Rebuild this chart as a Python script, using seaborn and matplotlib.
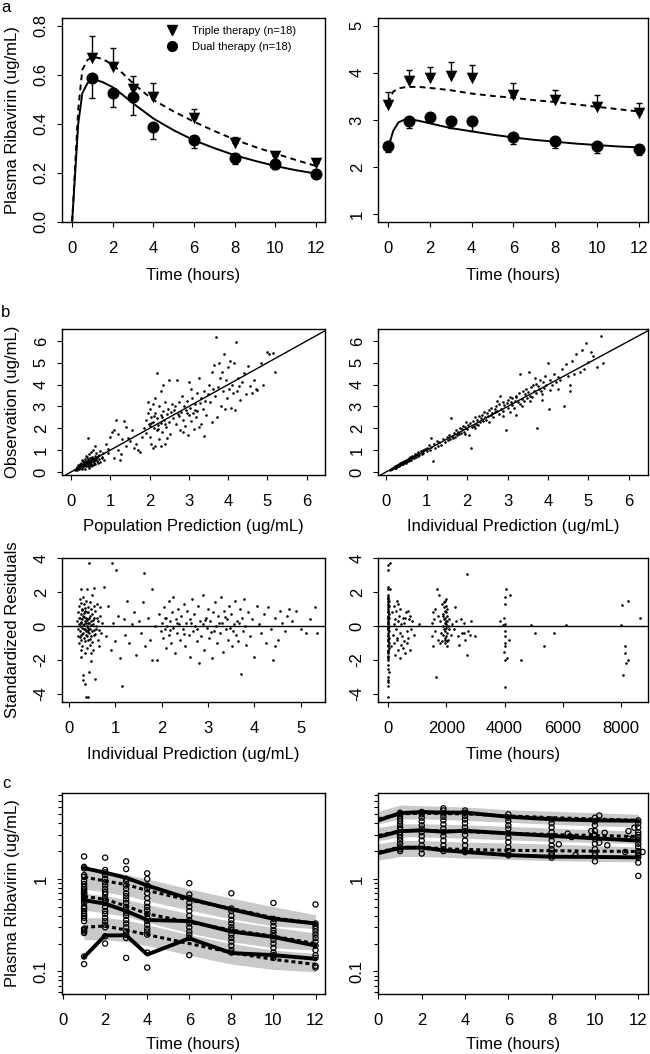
import matplotlib
matplotlib.use("Agg")
import matplotlib.pyplot as plt
import seaborn as sns
import pandas as pd
from matplotlib.lines import Line2D
from matplotlib.ticker import FixedLocator, LogLocator, NullFormatter

# ------------------------------------------------------------------ data
# Panel a (left): single-dose profile
a1_times = [1, 2, 3, 4, 6, 8, 10, 12]
a1_triple_mean = [0.667, 0.633, 0.540, 0.510, 0.425, 0.321, 0.267, 0.241]
a1_triple_err = [0.092, 0.078, 0.055, 0.055, 0.033, 0.025, 0.011, 0.016]
a1_dual_mean = [0.585, 0.527, 0.510, 0.387, 0.335, 0.261, 0.234, 0.196]
a1_dual_err = [0.079, 0.058, 0.075, 0.048, 0.034, 0.024, 0.018, 0.008]
a1_curve_t = [0, 0.3, 0.5, 0.75, 1, 1.5, 2, 2.5, 3, 3.5, 4, 5, 6, 7, 8, 9, 10, 11, 12]
a1_triple_curve = [0, 0.46, 0.62, 0.66, 0.674, 0.665, 0.64, 0.605, 0.565, 0.53, 0.497,
                   0.45, 0.408, 0.37, 0.335, 0.305, 0.278, 0.252, 0.227]
a1_dual_curve = [0, 0.40, 0.524, 0.565, 0.583, 0.57, 0.549, 0.517, 0.483, 0.452, 0.421,
                 0.373, 0.332, 0.30, 0.271, 0.248, 0.227, 0.21, 0.196]

# Panel a (right): steady state profile
a2_times = [0, 1, 2, 3, 4, 6, 8, 10, 12]
a2_triple_mean = [3.32, 3.82, 3.88, 3.93, 3.89, 3.52, 3.42, 3.28, 3.14]
a2_triple_err = [0.28, 0.23, 0.25, 0.30, 0.27, 0.27, 0.21, 0.25, 0.23]
a2_dual_mean = [2.44, 2.98, 3.07, 2.98, 2.97, 2.65, 2.56, 2.44, 2.39]
a2_dual_err = [0.12, 0.14, 0.10, 0.15, 0.20, 0.16, 0.16, 0.14, 0.14]
a2_curve_t = [0, 0.1, 0.25, 0.5, 0.75, 1, 1.5, 2, 3, 4, 5, 6, 7, 8, 9, 10, 11, 12]
a2_triple_curve = [3.35, 3.47, 3.60, 3.67, 3.69, 3.70, 3.70, 3.68, 3.63, 3.56, 3.51,
                   3.47, 3.42, 3.38, 3.33, 3.28, 3.23, 3.18]
a2_dual_curve = [2.42, 2.55, 2.77, 2.95, 3.00, 3.02, 2.98, 2.93, 2.83, 2.76, 2.69,
                 2.63, 2.58, 2.54, 2.50, 2.47, 2.44, 2.42]

legend_labels = ["Triple therapy (n=18)", "Dual therapy (n=18)"]

# Panel b: goodness of fit (population prediction, observation)
pop_pairs = [
    (0.10, 0.08), (0.12, 0.15), (0.14, 0.10), (0.15, 0.22), (0.17, 0.18), (0.18, 0.30), (0.20, 0.12),
    (0.20, 0.25), (0.22, 0.35), (0.23, 0.20), (0.25, 0.28), (0.25, 0.42), (0.27, 0.15), (0.28, 0.33),
    (0.30, 0.38), (0.30, 0.50), (0.31, 0.22), (0.33, 0.45), (0.34, 0.30), (0.35, 0.60), (0.36, 0.40),
    (0.37, 0.25), (0.38, 0.52), (0.40, 0.35), (0.40, 0.70), (0.41, 0.45), (0.42, 0.28), (0.43, 0.58),
    (0.44, 0.40), (0.45, 0.80), (0.46, 0.50), (0.47, 0.32), (0.48, 0.62), (0.50, 0.45), (0.50, 0.90),
    (0.51, 0.38), (0.52, 0.55), (0.53, 0.70), (0.55, 0.48), (0.55, 1.00), (0.56, 0.30), (0.57, 0.62),
    (0.58, 0.42), (0.60, 0.75), (0.60, 0.55), (0.62, 0.35), (0.63, 0.85), (0.65, 0.50), (0.66, 0.68),
    (0.68, 0.40), (0.70, 0.78), (0.72, 0.58), (0.74, 0.95), (0.75, 0.45), (0.78, 0.70), (0.80, 0.62),
    (0.82, 0.85), (0.85, 0.55), (0.42, 1.55), (0.60, 1.20), (0.35, 0.15), (0.45, 0.20), (0.28, 0.55),
    (0.38, 0.75), (0.52, 0.25), (0.33, 0.36), (0.39, 0.44), (0.44, 0.52), (0.49, 0.40), (0.54, 0.64),
    (0.59, 0.50), (0.64, 0.60), (0.69, 0.72), (0.26, 0.30), (0.31, 0.27), (0.36, 0.33), (0.47, 0.47),
    (0.90, 1.30), (0.95, 0.85), (1.00, 1.60), (1.05, 1.85), (1.10, 1.90), (1.15, 2.40), (1.20, 1.00),
    (1.25, 0.55), (1.28, 0.80), (1.30, 1.50), (1.35, 2.35), (1.40, 1.20), (1.45, 1.55), (1.50, 1.40),
    (1.55, 1.90), (1.60, 1.10), (1.65, 1.30), (1.70, 1.00), (1.75, 0.90), (1.80, 1.60), (1.20, 1.75),
    (1.40, 2.05), (0.95, 1.05), (1.10, 0.65),
    (1.85, 2.00), (1.90, 2.40), (1.92, 1.80), (1.95, 2.70), (1.98, 2.20), (2.00, 1.60), (2.00, 2.90),
    (2.02, 2.10), (2.05, 2.50), (2.05, 1.30), (2.08, 3.10), (2.10, 2.30), (2.10, 1.10), (2.12, 2.00),
    (2.15, 2.70), (2.15, 3.40), (2.18, 1.90), (2.20, 2.45), (2.20, 4.55), (2.22, 2.15), (2.25, 3.00),
    (2.25, 1.50), (2.28, 2.60), (2.30, 2.25), (2.30, 3.70), (2.32, 1.85), (2.35, 2.80), (2.35, 4.00),
    (2.38, 2.40), (2.40, 1.30), (2.40, 3.20), (2.42, 2.05), (2.45, 2.65), (2.48, 2.90), (2.50, 2.30),
    (2.50, 4.20), (2.52, 1.75), (2.55, 2.75), (2.58, 3.10), (2.60, 2.45), (2.30, 1.20), (2.15, 1.20),
    (1.95, 3.20), (2.45, 1.55), (2.05, 2.25), (2.12, 2.55), (2.22, 1.95), (2.33, 2.50), (2.40, 2.20),
    (2.62, 2.85), (2.65, 3.00), (2.68, 2.20), (2.70, 4.20), (2.72, 2.65), (2.75, 3.20), (2.78, 1.90),
    (2.80, 2.75), (2.82, 3.50), (2.85, 2.40), (2.88, 3.00), (2.90, 2.10), (2.92, 2.85), (2.95, 3.25),
    (2.98, 1.70), (3.00, 2.60), (3.00, 4.10), (3.02, 2.95), (3.05, 2.35), (3.08, 3.40), (3.10, 2.70),
    (3.12, 1.95), (3.15, 3.10), (3.18, 2.50), (3.20, 3.60), (3.22, 2.80), (3.25, 4.30), (3.28, 3.15),
    (3.30, 2.20), (3.32, 3.40), (3.35, 2.90), (3.38, 3.70), (3.40, 1.65), (3.42, 3.25), (3.45, 2.60),
    (3.48, 3.55), (2.75, 2.55), (3.05, 3.80), (2.85, 1.85), (3.25, 2.05), (2.95, 2.70), (3.15, 2.85),
    (3.52, 4.00), (3.55, 3.20), (3.58, 4.60), (3.60, 2.30), (3.62, 3.80), (3.65, 4.90), (3.68, 3.50),
    (3.70, 6.20), (3.72, 2.50), (3.75, 3.90), (3.78, 5.00), (3.80, 4.30), (3.82, 3.00), (3.85, 4.60),
    (3.88, 3.70), (3.90, 5.40), (3.92, 2.90), (3.95, 4.20), (3.98, 3.40), (4.00, 4.80), (4.02, 3.80),
    (4.05, 5.10), (4.08, 2.95), (4.10, 4.00), (4.12, 3.60), (4.15, 5.00), (4.18, 2.85), (4.20, 5.95),
    (4.22, 3.70), (4.25, 4.30), (4.30, 3.30), (4.35, 4.10), (4.40, 4.55), (4.45, 3.55), (4.50, 4.85),
    (4.55, 3.95), (4.60, 3.60), (4.65, 4.20), (4.70, 3.80), (4.28, 3.95),
    (4.75, 3.75), (4.85, 5.00), (5.00, 5.50), (5.05, 5.40), (5.15, 5.45), (5.20, 4.60), (4.90, 4.00),
]

# (individual prediction, observation)
ind_pairs = [
    (0.10, 0.10), (0.12, 0.14), (0.15, 0.13), (0.17, 0.19), (0.18, 0.16), (0.20, 0.22), (0.22, 0.20),
    (0.23, 0.26), (0.25, 0.24), (0.27, 0.30), (0.28, 0.25), (0.30, 0.33), (0.32, 0.29), (0.33, 0.37),
    (0.35, 0.32), (0.37, 0.40), (0.38, 0.35), (0.40, 0.44), (0.42, 0.38), (0.43, 0.47), (0.45, 0.42),
    (0.47, 0.52), (0.48, 0.45), (0.50, 0.55), (0.52, 0.48), (0.54, 0.60), (0.55, 0.52), (0.57, 0.63),
    (0.58, 0.55), (0.60, 0.68), (0.62, 0.57), (0.64, 0.70), (0.65, 0.62), (0.68, 0.75), (0.70, 0.64),
    (0.72, 0.80), (0.74, 0.70), (0.76, 0.82), (0.78, 0.72), (0.80, 0.90), (0.82, 0.76), (0.85, 0.95),
    (0.88, 0.82), (0.90, 1.02), (0.92, 0.85), (0.95, 1.05), (0.30, 0.26), (0.35, 0.40), (0.45, 0.50),
    (0.55, 0.48), (0.65, 0.72), (0.25, 0.20), (0.40, 0.36), (0.60, 0.55), (0.50, 0.42),
    (1.00, 1.10), (1.02, 0.95), (1.05, 1.25), (1.08, 1.00), (1.10, 1.55), (1.12, 1.15), (1.15, 0.50),
    (1.18, 1.28), (1.20, 1.10), (1.25, 1.40), (1.28, 1.20), (1.30, 1.35), (1.35, 1.25), (1.40, 1.50),
    (1.45, 1.35), (1.50, 1.60), (1.52, 1.45), (1.55, 1.70), (1.58, 1.50), (1.60, 2.45), (1.62, 1.65),
    (1.65, 1.55), (1.68, 1.80), (1.70, 1.62), (1.72, 1.90), (1.75, 1.70), (1.78, 1.85), (1.80, 1.75),
    (1.82, 2.00), (1.85, 1.80), (1.88, 1.95), (1.90, 2.10), (1.92, 1.85), (1.95, 2.05), (1.98, 2.30),
    (2.00, 1.95), (2.02, 2.15), (2.05, 1.70), (2.08, 2.25), (2.10, 1.10), (2.12, 2.05), (2.15, 2.35),
    (2.18, 2.10), (2.20, 2.50), (2.22, 2.20), (2.25, 2.40), (2.28, 2.15), (2.30, 2.55), (2.32, 2.30),
    (2.35, 2.45), (2.38, 2.60), (2.40, 2.35), (2.42, 2.75), (2.45, 2.50), (2.48, 2.40), (2.50, 2.70),
    (2.52, 2.55), (2.55, 2.85), (2.58, 2.60), (2.60, 2.95), (2.62, 2.70), (2.65, 2.50), (2.68, 2.90),
    (2.70, 2.75), (2.72, 3.00), (2.75, 2.80), (2.78, 3.10), (2.80, 2.65), (2.82, 3.50), (2.85, 2.90),
    (2.88, 3.20), (2.90, 2.80), (2.92, 3.05), (2.95, 1.90), (2.98, 3.15), (3.00, 2.95), (3.02, 3.30),
    (3.05, 2.75), (3.08, 3.20), (3.10, 3.05), (3.12, 3.40), (3.15, 2.95), (3.18, 3.25), (3.20, 2.60),
    (3.22, 3.45), (3.25, 3.20), (3.28, 3.60), (3.30, 3.10), (3.32, 4.50), (3.35, 3.35), (3.38, 3.70),
    (3.40, 3.25), (3.42, 3.55), (3.45, 3.80), (3.48, 3.40), (3.50, 3.65), (3.52, 4.60), (3.55, 3.50),
    (3.58, 3.90), (3.60, 3.45), (3.62, 4.00), (3.65, 3.70), (3.68, 4.30), (3.70, 3.60), (3.72, 2.00),
    (3.75, 3.95), (3.78, 3.80), (3.80, 4.20), (3.82, 3.70), (3.85, 3.30), (3.88, 4.10), (3.90, 3.85),
    (3.92, 4.40), (3.95, 4.00), (4.00, 5.00), (4.02, 2.90), (4.05, 4.20), (4.10, 4.00), (4.15, 4.50),
    (4.20, 4.10), (4.25, 4.35), (4.30, 4.20), (4.35, 4.70), (4.40, 3.00), (4.45, 4.95), (4.50, 4.40),
    (4.55, 3.70), (4.55, 4.00), (4.60, 5.10), (4.65, 4.50), (4.70, 5.40), (4.80, 4.60), (4.85, 5.60),
    (4.90, 4.70), (4.95, 5.90), (5.00, 5.05), (5.05, 5.50), (5.10, 5.30), (5.20, 4.80), (5.30, 6.25),
    (5.35, 5.00), (2.55, 2.30), (2.75, 3.25), (2.90, 2.55), (3.05, 3.45), (3.20, 3.50), (3.35, 3.00),
    (3.55, 3.25), (3.70, 4.05), (3.85, 3.55), (4.05, 3.75), (4.25, 3.80), (1.95, 1.75), (2.20, 2.00),
]

# (individual prediction, standardized residual)
resid_ipred_pairs = [
    (0.18, 0.30), (0.19, -0.20), (0.20, 0.80), (0.20, -0.60), (0.21, 0.10), (0.22, 1.20), (0.22, -1.00),
    (0.23, 0.50), (0.23, -0.30), (0.24, 1.60), (0.24, 0.00), (0.25, -1.40), (0.25, 0.70), (0.26, -0.50),
    (0.26, 2.20), (0.27, 0.20), (0.27, -0.80), (0.28, 1.00), (0.28, -0.10), (0.29, 0.40), (0.29, -1.20),
    (0.30, 1.70), (0.30, -0.40), (0.31, 0.60), (0.31, -2.90), (0.32, 0.10), (0.32, -0.70), (0.33, 1.30),
    (0.33, -0.20), (0.34, 0.90), (0.34, -1.60), (0.35, 0.30), (0.35, -0.90), (0.36, 1.50), (0.36, -0.30),
    (0.37, 0.50), (0.37, -4.15), (0.38, 2.20), (0.38, -0.60), (0.39, 0.00), (0.39, -1.30), (0.40, 1.10),
    (0.40, -0.10), (0.41, 0.40), (0.41, -4.15), (0.42, -0.80), (0.42, 0.80), (0.43, -2.70), (0.43, 0.20),
    (0.44, 3.70), (0.44, -0.40), (0.45, 1.40), (0.45, -1.10), (0.46, 0.60), (0.46, -0.20), (0.47, 1.00),
    (0.47, -2.05), (0.48, 0.30), (0.48, -0.60), (0.49, 1.80), (0.50, -0.30), (0.50, 0.70), (0.51, -1.40),
    (0.52, 0.10), (0.53, 2.25), (0.54, -0.50), (0.55, 0.50), (0.56, -3.10), (0.57, 0.90), (0.58, -0.20),
    (0.60, 1.30), (0.62, -0.80), (0.63, 0.30), (0.65, -1.20), (0.66, 0.60), (0.68, 1.10), (0.70, -0.40),
    (0.72, 0.20), (0.75, 2.30), (0.34, -3.40), (0.30, -3.20), (0.26, -1.80), (0.48, -1.60), (0.58, 0.00),
    (0.36, 0.15), (0.40, -0.25), (0.29, 0.95), (0.33, 0.55), (0.21, 0.45), (0.23, -0.65), (0.25, 0.25),
    (0.27, 1.35), (0.28, -0.45), (0.31, 0.05), (0.32, 0.75), (0.34, -0.15), (0.35, 1.05), (0.37, -0.55),
    (0.38, 0.35), (0.39, 0.85), (0.41, -0.35), (0.42, 0.15), (0.44, 0.45), (0.45, -0.75), (0.47, 0.05),
    (0.49, -0.95), (0.51, 0.35), (0.53, -0.25), (0.55, 1.15), (0.57, -0.45), (0.61, 0.45), (0.64, -0.25),
    (0.80, -0.60), (0.85, 1.20), (0.90, -1.40), (0.92, 3.70), (0.95, 0.20), (1.00, -0.90), (1.02, 3.30),
    (1.05, 0.60), (1.10, -1.90), (1.15, -3.55), (1.18, 0.40), (1.20, -0.50), (1.25, 1.50), (1.30, -1.00),
    (1.35, 0.10), (1.40, 0.80), (1.45, -1.70), (1.50, 0.30), (1.55, -0.40), (1.60, 1.40), (1.62, 3.10),
    (1.65, -1.20), (1.70, 0.50), (1.75, -0.80), (1.78, 2.20), (1.80, -2.00), (1.85, 0.00), (1.90, -2.00),
    (1.95, 0.70), (1.98, -0.30),
    (2.00, 0.20), (2.02, -0.70), (2.05, 1.10), (2.08, -0.20), (2.10, 0.50), (2.10, -1.30), (2.12, 0.00),
    (2.15, 1.50), (2.15, -0.50), (2.18, 0.30), (2.20, -1.00), (2.22, 0.80), (2.25, -0.10), (2.25, 1.70),
    (2.28, -1.60), (2.30, 0.40), (2.32, -0.40), (2.35, 1.00), (2.38, 0.10), (2.40, -0.80), (2.42, 0.60),
    (2.45, -0.20), (2.48, 1.30), (2.50, -1.20), (2.52, 0.20), (2.55, 0.90), (2.58, -0.50), (2.60, 0.40),
    (2.62, -1.80), (2.65, 1.60), (2.68, -0.30), (2.70, 0.70), (2.72, 0.00), (2.75, -0.90), (2.78, 1.20),
    (2.80, -2.20), (2.82, 0.30), (2.85, -0.60), (2.88, 1.80), (2.90, 0.10), (2.92, -1.40), (2.95, 0.50),
    (2.98, -0.10), (3.00, 1.00), (3.02, -0.70), (3.05, 0.30), (3.08, -1.90), (3.10, 0.80), (3.12, -0.30),
    (3.15, 1.40), (3.18, 0.00), (3.20, -1.00), (3.22, 0.60), (3.25, -0.40), (3.28, 1.70), (3.30, 0.20),
    (3.32, -1.50), (3.35, 0.90), (3.38, -0.20), (3.40, 0.40), (3.42, -0.80), (3.45, 1.20), (3.48, -0.10),
    (3.50, 0.70), (3.52, -1.20), (3.55, 0.10), (3.58, 1.50), (3.60, -0.50), (3.62, 0.30), (3.65, -0.90),
    (3.68, 1.00), (3.70, -2.85), (3.72, 0.50), (3.75, -0.30), (3.78, 1.60), (3.80, 0.00), (3.82, -1.10),
    (2.06, 0.45), (2.17, -0.25), (2.33, 0.15), (2.47, -0.45), (2.63, 0.20), (2.77, -0.20), (2.93, 0.35),
    (3.07, -0.35), (3.23, 0.15), (3.37, 0.55), (3.53, -0.30), (3.67, 0.20),
    (3.85, 0.80), (3.90, -0.60), (3.95, 0.40), (4.00, -1.80), (4.05, 1.20), (4.10, 0.10), (4.15, -0.40),
    (4.20, 0.70), (4.25, -1.00), (4.30, 1.10), (4.35, -0.20), (4.40, -2.00), (4.45, 0.50), (4.50, -0.80),
    (4.55, 0.90), (4.60, 0.20), (4.65, -0.30), (4.70, 0.60), (4.80, 0.30), (4.90, 0.90), (5.00, -0.20),
    (5.10, -0.40), (5.20, 0.40), (5.30, 1.10), (5.35, -0.40), (4.45, -1.20), (4.75, 1.00),
]

# (time in hours, standardized residual)
resid_time_pairs = [
    (0, -4.15), (10, -3.5), (5, -3.3), (15, -3.2), (0, -3.0), (20, -2.7), (5, -2.0), (10, -1.8),
    (0, -1.6), (15, -1.5), (25, -1.3), (5, -1.2), (30, -1.0), (0, -0.9), (10, -0.8), (20, -0.7),
    (5, -0.6), (15, -0.5), (0, -0.4), (25, -0.3), (10, -0.2), (5, -0.1), (20, 0.0), (0, 0.1),
    (15, 0.2), (10, 0.3), (5, 0.4), (25, 0.5), (0, 0.6), (20, 0.7), (10, 0.8), (5, 0.9), (15, 1.0),
    (0, 1.1), (25, 1.2), (10, 1.3), (5, 1.4), (20, 1.5), (0, 1.6), (15, 1.7), (10, 1.8), (5, 2.2),
    (15, 2.3), (0, 3.3), (10, 3.6), (60, 3.7), (70, 2.2), (0, -2.3), (10, -2.5), (5, -1.9), (0, -1.4),
    (10, -1.1), (5, -0.25), (10, 0.45), (0, 0.85), (5, -0.75), (0, -0.05), (5, 0.25), (0, 0.55),
    (5, 1.25), (0, 1.45), (5, -1.45), (0, -1.75), (5, 1.65),
    (120, -1.2), (150, 0.8), (180, -0.5), (200, 1.2), (220, -1.0), (240, 0.4), (250, -1.7), (260, 0.9),
    (280, -0.2), (300, 1.5), (320, -0.8), (340, 0.3), (360, -1.4), (380, 0.6), (400, -0.4), (420, 1.0),
    (440, -1.1), (460, 0.1), (480, -0.6), (500, -1.3), (520, 0.5), (540, -0.9), (560, 0.2), (600, -1.6),
    (620, 0.8), (640, -0.3), (660, -1.0), (680, 0.9), (700, -0.7), (720, 0.4), (740, -1.4), (760, 0.6),
    (780, -0.2), (820, 0.3), (880, -0.5), (1050, 0.1), (350, 1.3), (400, -1.9), (600, 0.5), (220, 0.1),
    (300, -0.7),
    (1500, 0.2), (1520, -0.6), (1540, 0.8), (1560, -1.2), (1580, 0.4), (1600, -0.3), (1620, 1.0),
    (1650, -3.0), (1680, 2.2), (1700, -0.8), (1720, 0.6), (1750, 1.8), (1780, -1.0), (1800, 0.3),
    (1820, -0.4), (1850, 1.3), (1860, -0.9), (1880, 0.7), (1900, 0.0), (1900, -0.5), (1910, 1.1),
    (1920, 0.4), (1930, -0.2), (1940, 0.9), (1950, -0.7), (1950, 0.2), (1960, 1.5), (1960, -1.0),
    (1970, 0.5), (1970, -0.3), (1980, 1.2), (1980, 0.1), (1990, -0.6), (1990, 0.8), (2000, -0.1),
    (2000, 1.6), (2010, 0.3), (2010, -0.9), (2020, 0.6), (2030, -0.4), (2040, 1.0), (2050, 0.0),
    (2060, -0.8), (2080, 0.4), (2100, -0.2), (1930, 1.4), (1970, -0.8), (1900, 0.6), (1990, 0.3),
    (2020, -1.2),
    (2150, -0.5), (2200, 0.1), (2250, -0.2), (2300, 1.1), (2350, 0.3), (2400, -0.6), (2450, -1.1),
    (2500, 0.4), (2550, -0.4), (2600, 0.2), (2650, -0.8), (2700, -1.7), (2720, 3.05), (2750, -0.3),
    (2800, -0.5), (2850, 0.3), (3000, -0.6), (2600, -0.4),
    (3850, 0.3), (3950, 0.05), (3980, -1.5), (4000, -3.6), (4000, -2.0), (4000, -0.3), (4000, 1.3),
    (4010, -1.0), (4010, 1.7), (4020, 0.1), (4020, -0.6), (3990, 0.5), (4050, 2.2), (4100, -1.9),
    (4150, -0.8), (4200, 1.8), (4030, -1.2),
    (4570, -2.0), (4910, 0.05), (5030, -0.4), (5370, -1.2), (5710, -0.4), (6110, 0.05),
    (8000, 0.05), (8030, 1.25), (8060, -2.9), (8120, -1.2), (8150, -1.6), (8180, -2.2), (8230, -2.0),
    (8230, 1.5), (8650, 0.45),
]

# Panel c (left): VPC single dose
c1_t = [1, 2, 3, 4, 6, 8, 10, 12]
c1_obs95 = [1.31, 1.17, 1.03, 0.85, 0.61, 0.47, 0.37, 0.33]
c1_obs50 = [0.59, 0.54, 0.45, 0.36, 0.35, 0.27, 0.236, 0.19]
c1_obs05 = [0.143, 0.245, 0.246, 0.152, 0.228, 0.158, 0.15, 0.137]
c1_pred95 = [1.05, 0.95, 0.87, 0.75, 0.59, 0.48, 0.38, 0.33]
c1_pred50 = [0.65, 0.60, 0.51, 0.42, 0.34, 0.28, 0.24, 0.20]
c1_pred05 = [0.30, 0.31, 0.28, 0.25, 0.20, 0.16, 0.135, 0.119]
c1_band_up = [(0.78, 1.36), (0.72, 1.22), (0.66, 1.12), (0.58, 1.00), (0.46, 0.78), (0.37, 0.62), (0.31, 0.50), (0.29, 0.41)]
c1_band_mid = [(0.46, 0.70), (0.43, 0.66), (0.39, 0.60), (0.34, 0.53), (0.26, 0.42), (0.21, 0.35), (0.18, 0.30), (0.17, 0.26)]
c1_band_low = [(0.22, 0.38), (0.22, 0.38), (0.21, 0.36), (0.19, 0.32), (0.15, 0.25), (0.12, 0.20), (0.105, 0.17), (0.099, 0.156)]
c1_observed = {
    1: [0.12, 0.145, 0.26, 0.27, 0.28, 0.29, 0.35, 0.38, 0.40, 0.42, 0.45, 0.48, 0.50, 0.55, 0.58, 0.60,
        0.62, 0.65, 0.68, 0.70, 0.72, 0.75, 0.78, 0.82, 0.88, 0.95, 1.05, 1.10, 1.30, 1.35, 1.75],
    2: [0.20, 0.24, 0.30, 0.32, 0.35, 0.38, 0.42, 0.45, 0.50, 0.55, 0.58, 0.62, 0.68, 0.72, 0.78, 0.85,
        0.92, 1.0, 1.10, 1.18, 1.25, 1.70],
    3: [0.14, 0.23, 0.25, 0.27, 0.30, 0.33, 0.36, 0.40, 0.43, 0.46, 0.50, 0.55, 0.60, 0.65, 0.70, 0.78,
        0.85, 0.95, 1.0, 1.28, 1.55],
    4: [0.11, 0.16, 0.25, 0.27, 0.29, 0.32, 0.35, 0.38, 0.42, 0.46, 0.50, 0.55, 0.62, 0.70, 0.78, 0.85,
        1.0, 1.15],
    6: [0.15, 0.23, 0.25, 0.27, 0.30, 0.33, 0.36, 0.40, 0.45, 0.50, 0.55, 0.62, 0.68, 0.90],
    8: [0.16, 0.17, 0.19, 0.21, 0.23, 0.25, 0.28, 0.30, 0.33, 0.36, 0.40, 0.45, 0.48, 0.70],
    10: [0.14, 0.15, 0.16, 0.18, 0.20, 0.22, 0.24, 0.26, 0.28, 0.31, 0.34, 0.37, 0.55],
    12: [0.11, 0.115, 0.14, 0.15, 0.17, 0.19, 0.21, 0.23, 0.25, 0.27, 0.29, 0.31, 0.33, 0.53],
}

# Panel c (right): VPC steady state
c2_t = [0, 1, 2, 3, 4, 6, 8, 10, 12]
c2_obs95 = [4.3, 5.15, 5.3, 5.22, 5.22, 4.7, 4.42, 4.3, 4.25]
c2_obs50 = [2.86, 3.28, 3.36, 3.24, 3.32, 3.11, 2.92, 2.75, 2.6]
c2_obs05 = [1.9, 2.17, 2.18, 2.04, 1.96, 1.81, 1.74, 1.73, 1.71]
c2_pred95 = [4.45, 5.05, 5.15, 5.1, 5.05, 4.8, 4.6, 4.45, 4.3]
c2_pred50 = [2.95, 3.3, 3.35, 3.3, 3.25, 3.12, 3.02, 2.95, 2.88]
c2_pred05 = [1.95, 2.2, 2.2, 2.12, 2.08, 2.04, 2.02, 2.0, 1.98]
c2_band_up = [(3.95, 5.4), (4.45, 6.3), (4.45, 6.2), (4.4, 6.1), (4.3, 6.0), (4.1, 5.6), (3.9, 5.4), (3.75, 5.2), (3.65, 5.0)]
c2_band_mid = [(2.6, 3.6), (2.85, 3.95), (2.85, 3.95), (2.8, 3.9), (2.75, 3.85), (2.65, 3.7), (2.55, 3.55), (2.48, 3.4), (2.42, 3.3)]
c2_band_low = [(1.6, 2.4), (1.75, 2.62), (1.75, 2.6), (1.72, 2.55), (1.68, 2.5), (1.63, 2.45), (1.58, 2.38), (1.55, 2.3), (1.53, 2.22)]
c2_observed = {
    1: [2.0, 2.1, 2.2, 2.4, 2.6, 2.8, 3.0, 3.2, 3.4, 3.6, 3.9, 4.2, 4.5, 4.8, 5.0, 5.2],
    2: [1.88, 2.1, 2.3, 2.6, 2.9, 3.2, 3.5, 3.8, 4.2, 4.6, 5.0, 5.3],
    3: [2.0, 2.1, 2.3, 2.6, 2.9, 3.2, 3.5, 3.9, 4.3, 4.7, 5.1, 5.5, 5.8],
    4: [1.95, 2.05, 2.3, 2.6, 3.0, 3.3, 3.6, 4.0, 4.4, 4.8, 5.2, 5.5],
    6: [1.8, 2.0, 2.2, 2.5, 2.8, 3.1, 3.5, 3.8, 4.2, 4.6, 5.0],
    8: [1.7, 1.8, 1.9, 2.1, 2.3, 2.6, 2.9, 3.2, 3.6, 4.0, 4.4],
    10: [1.55, 1.8, 1.9, 2.1, 2.4, 2.7, 3.0, 3.3, 3.8, 4.2, 4.6],
    12: [1.08, 1.5, 1.7, 1.8, 1.9, 2.0, 2.2, 2.4, 2.6, 2.8, 3.0, 3.2, 3.6, 4.0, 4.3],
}
c2_observed_offgrid = [(8.33, 2.37), (8.74, 3.09), (8.92, 2.84), (9.1, 1.81), (9.83, 3.29),
                       (10.2, 4.85), (10.2, 2.47), (10.45, 3.16), (10.57, 2.31), (11.4, 1.96),
                       (11.55, 3.29), (11.55, 2.73), (11.82, 3.58), (12.2, 1.96)]

# ------------------------------------------------------------------ style
sns.set_theme(style="ticks")
plt.rcParams['font.family'] = ['Liberation Sans', 'DejaVu Sans']
plt.rcParams.update({
    "axes.edgecolor": "black",
    "axes.linewidth": 1.0,
    "xtick.color": "black",
    "ytick.color": "black",
    "xtick.major.size": 3.6,
    "ytick.major.size": 3.6,
    "xtick.major.width": 0.8,
    "ytick.major.width": 0.8,
    "xtick.labelsize": 12,
    "ytick.labelsize": 12,
    "axes.labelsize": 12,
    "text.color": "black",
    "axes.labelcolor": "black",
})

W, H = 650, 1054
fig = plt.figure(figsize=(6.5, 10.54), dpi=100)
fig.patch.set_facecolor("white")


def add_ax(x0, y0, x1, y1):
    return fig.add_axes([x0 / W, 1 - y1 / H, (x1 - x0) / W, (y1 - y0) / H])


def finish(ax, xlim, ylim, xticks, yticks=None, ytlabels=None, xlabel=None, ylabel=None,
           hpx=None, log=False):
    ax.set_xlim(*xlim)
    if log:
        ax.set_yscale("log")
    ax.set_ylim(*ylim)
    ax.xaxis.set_major_locator(FixedLocator(xticks))
    ax.set_xticklabels([str(t) for t in xticks])
    if log:
        ax.yaxis.set_major_locator(FixedLocator(yticks))
        ax.set_yticklabels(ytlabels)
        ax.yaxis.set_minor_locator(LogLocator(base=10, subs=[2, 3, 4, 5, 6, 7, 8, 9]))
        ax.yaxis.set_minor_formatter(NullFormatter())
        ax.tick_params(axis="y", which="minor", length=3.0, width=0.8, color="black")
    else:
        ax.yaxis.set_major_locator(FixedLocator(yticks))
        ax.set_yticklabels(ytlabels if ytlabels else [str(t) for t in yticks])
    for s in ax.spines.values():
        s.set_visible(True)
        s.set_color("black")
        s.set_linewidth(1.0)
    ax.tick_params(axis="x", which="major", pad=10, direction="out")
    ax.tick_params(axis="y", which="major", pad=6, direction="out")
    for lbl in ax.get_yticklabels():
        lbl.set_rotation(90)
        lbl.set_va("center")
    ax.set_xlabel(xlabel if xlabel else "")
    ax.set_ylabel(ylabel if ylabel else "")
    if xlabel:
        ax.xaxis.label.set_va("center")
        ax.xaxis.set_label_coords(0.5, -52 / hpx)
    if ylabel:
        ax.yaxis.label.set_va("center")
        ax.yaxis.set_label_coords(-0.19, 0.5)
    ax.grid(False)
    ax.set_facecolor("white")


L0, L1, R0, R1 = 62, 325, 378, 648
dash_a = (0, (3.0, 2.2))

# ------------------------------------------------------------------ panel a left
ax = add_ax(L0, 18, L1, 222)
sns.lineplot(x=a1_curve_t, y=a1_triple_curve, ax=ax, color="black", linewidth=1.4, linestyle=dash_a)
sns.lineplot(x=a1_curve_t, y=a1_dual_curve, ax=ax, color="black", linewidth=1.4)
ax.errorbar(a1_times, a1_triple_mean, yerr=[[0] * len(a1_times), a1_triple_err], fmt="none",
            ecolor="black", elinewidth=1.0, capsize=2.5, capthick=1.0)
ax.errorbar(a1_times, a1_dual_mean, yerr=[a1_dual_err, [0] * len(a1_times)], fmt="none",
            ecolor="black", elinewidth=1.0, capsize=2.5, capthick=1.0)
sns.scatterplot(x=a1_times, y=a1_triple_mean, ax=ax, marker="v", color="black", s=70, linewidth=0, zorder=5)
sns.scatterplot(x=a1_times, y=a1_dual_mean, ax=ax, marker="o", color="black", s=75, linewidth=0, zorder=5)
handles = [Line2D([], [], marker="v", ls="", color="black", markersize=7),
           Line2D([], [], marker="o", ls="", color="black", markersize=7)]
ax.legend(handles, legend_labels, loc="upper left", bbox_to_anchor=(0.36, 0.985), frameon=False,
          fontsize=8, handlelength=2.0, handletextpad=0.8, labelspacing=0.6, borderpad=0.4,
          borderaxespad=0)
finish(ax, (-0.5, 12.45), (-0.002, 0.832), [0, 2, 4, 6, 8, 10, 12],
       [0.0, 0.2, 0.4, 0.6, 0.8], ["0.0", "0.2", "0.4", "0.6", "0.8"],
       xlabel="Time (hours)", ylabel="Plasma Ribavirin (ug/mL)", hpx=204)
ax.xaxis.set_label_coords(0.5, -53 / 204)

# ------------------------------------------------------------------ panel a right
ax = add_ax(R0, 18, R1, 222)
sns.lineplot(x=a2_curve_t, y=a2_triple_curve, ax=ax, color="black", linewidth=1.4, linestyle=dash_a)
sns.lineplot(x=a2_curve_t, y=a2_dual_curve, ax=ax, color="black", linewidth=1.4)
ax.errorbar(a2_times, a2_triple_mean, yerr=[[0] * len(a2_times), a2_triple_err], fmt="none",
            ecolor="black", elinewidth=1.0, capsize=2.5, capthick=1.0)
ax.errorbar(a2_times, a2_dual_mean, yerr=[a2_dual_err, [0] * len(a2_times)], fmt="none",
            ecolor="black", elinewidth=1.0, capsize=2.5, capthick=1.0)
sns.scatterplot(x=a2_times, y=a2_triple_mean, ax=ax, marker="v", color="black", s=70, linewidth=0, zorder=5)
sns.scatterplot(x=a2_times, y=a2_dual_mean, ax=ax, marker="o", color="black", s=75, linewidth=0, zorder=5)
finish(ax, (-0.48, 12.45), (0.84, 5.16), [0, 2, 4, 6, 8, 10, 12], [1, 2, 3, 4, 5],
       xlabel="Time (hours)", hpx=204)
ax.xaxis.set_label_coords(0.5, -53 / 204)

# ------------------------------------------------------------------ panel b
pop_df = pd.DataFrame(pop_pairs, columns=["pred", "obs"])
ind_df = pd.DataFrame(ind_pairs, columns=["ipred", "obs"])
rip_df = pd.DataFrame(resid_ipred_pairs, columns=["ipred", "res"])
rt_df = pd.DataFrame(resid_time_pairs, columns=["time", "res"])
dot = dict(color="black", s=3.5, linewidth=0, marker="o")

ax = add_ax(L0, 329, L1, 475)
sns.scatterplot(data=pop_df, x="pred", y="obs", ax=ax, **dot)
ax.axline((0, 0), slope=1, color="black", linewidth=1.0)
finish(ax, (-0.23, 6.47), (-0.14, 6.55), [0, 1, 2, 3, 4, 5, 6], [0, 1, 2, 3, 4, 5, 6],
       xlabel="Population Prediction (ug/mL)", ylabel="Observation (ug/mL)", hpx=146)

ax = add_ax(R0, 329, R1, 475)
sns.scatterplot(data=ind_df, x="ipred", y="obs", ax=ax, **dot)
ax.axline((0, 0), slope=1, color="black", linewidth=1.0)
finish(ax, (-0.2, 6.47), (-0.14, 6.55), [0, 1, 2, 3, 4, 5, 6], [0, 1, 2, 3, 4, 5, 6],
       xlabel="Individual Prediction (ug/mL)", hpx=146)

ax = add_ax(L0, 558, L1, 702)
sns.scatterplot(data=rip_df, x="ipred", y="res", ax=ax, **dot)
ax.axhline(0, color="black", linewidth=1.0)
finish(ax, (-0.15, 5.52), (-4.47, 4.0), [0, 1, 2, 3, 4, 5], [-4, -2, 0, 2, 4],
       xlabel="Individual Prediction (ug/mL)", ylabel="Standardized Residuals", hpx=144)

ax = add_ax(R0, 558, R1, 702)
sns.scatterplot(data=rt_df, x="time", y="res", ax=ax, **dot)
ax.axhline(0, color="black", linewidth=1.0)
finish(ax, (-342, 8923), (-4.47, 4.0), [0, 2000, 4000, 6000, 8000], [-4, -2, 0, 2, 4],
       xlabel="Time (hours)", hpx=144)

# ------------------------------------------------------------------ panel c
band_col = "#c9c9c9"
solid_kw = dict(color="black", linewidth=2.8)
dash_kw = dict(color="black", linewidth=2.2, linestyle=(0, (1.3, 1.0)))
circ_kw = dict(s=14, facecolor="none", edgecolor="black", linewidth=0.9, marker="o")


def vpc(ax, t, bands, obs_dict, offgrid, preds, obss):
    for band in bands:
        ax.fill_between(t, [b[0] for b in band], [b[1] for b in band], color=band_col, linewidth=0, zorder=1)
    ot = [k for k, v in obs_dict.items() for _ in v]
    ov = [x for v in obs_dict.values() for x in v]
    ot += [p[0] for p in offgrid]
    ov += [p[1] for p in offgrid]
    sns.scatterplot(x=ot, y=ov, ax=ax, zorder=3, **circ_kw)
    for p in preds:
        sns.lineplot(x=t, y=p, ax=ax, zorder=4, **dash_kw)
    for o in obss:
        sns.lineplot(x=t, y=o, ax=ax, zorder=5, **solid_kw)


ax = add_ax(L0, 793, L1, 994)
vpc(ax, c1_t, [c1_band_up, c1_band_mid, c1_band_low], c1_observed, [],
    [c1_pred95, c1_pred50, c1_pred05], [c1_obs95, c1_obs50, c1_obs05])
finish(ax, (-0.05, 12.45), (0.057, 8.5), [0, 2, 4, 6, 8, 10, 12], [0.1, 1], ["0.1", "1"],
       xlabel="Time (hours)", ylabel="Plasma Ribavirin (ug/mL)", hpx=201, log=True)
ax.xaxis.set_label_coords(0.5, -51 / 201)

ax = add_ax(R0, 793, R1, 994)
vpc(ax, c2_t, [c2_band_up, c2_band_mid, c2_band_low], c2_observed, c2_observed_offgrid,
    [c2_pred95, c2_pred50, c2_pred05], [c2_obs95, c2_obs50, c2_obs05])
finish(ax, (-0.02, 12.45), (0.057, 8.5), [0, 2, 4, 6, 8, 10, 12], [0.1, 1], ["0.1", "1"],
       xlabel="Time (hours)", hpx=201, log=True)
ax.xaxis.set_label_coords(0.5, -51 / 201)

# panel letters
fig.text(6 / W, 1 - 7 / H, "a", fontsize=12, ha="center", va="center")
fig.text(6 / W, 1 - 313 / H, "b", fontsize=12, ha="center", va="center")
fig.text(6 / W, 1 - 783 / H, "c", fontsize=12, ha="center", va="center")

fig.savefig("out.png", dpi=100, facecolor="white")
